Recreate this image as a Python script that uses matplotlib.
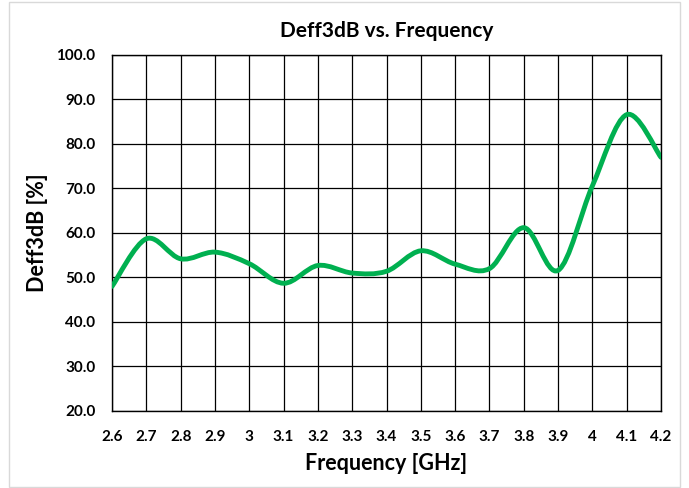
import numpy as np
import matplotlib.pyplot as plt
from matplotlib.path import Path
from matplotlib.patches import PathPatch, Rectangle

freq = [2.6, 2.7, 2.8, 2.9, 3.0, 3.1, 3.2, 3.3, 3.4, 3.5, 3.6, 3.7, 3.8, 3.9, 4.0, 4.1, 4.2]
deff = [48.0, 58.7, 54.2, 55.7, 53.1, 48.7, 52.7, 51.0, 51.4, 56.0, 53.0, 52.0, 61.2, 51.6, 70.6, 86.6, 77.0]
x_ticks = [2.6, 2.7, 2.8, 2.9, 3.0, 3.1, 3.2, 3.3, 3.4, 3.5, 3.6, 3.7, 3.8, 3.9, 4.0, 4.1, 4.2]
x_labels = ['2.6', '2.7', '2.8', '2.9', '3', '3.1', '3.2', '3.3', '3.4', '3.5',
            '3.6', '3.7', '3.8', '3.9', '4', '4.1', '4.2']
y_ticks = [20, 30, 40, 50, 60, 70, 80, 90, 100]


def smooth_path(x, y, tension=1 / 6):
    # spreadsheet-style smoothed line: cubic bezier segments with catmull-rom tangents
    x = np.asarray(x, float)
    y = np.asarray(y, float)
    n = len(x)
    verts = [(x[0], y[0])]
    codes = [Path.MOVETO]
    for i in range(n - 1):
        i0 = max(i - 1, 0)
        i3 = min(i + 2, n - 1)
        c1 = (x[i] + (x[i + 1] - x[i0]) * tension, y[i] + (y[i + 1] - y[i0]) * tension)
        c2 = (x[i + 1] - (x[i3] - x[i]) * tension, y[i + 1] - (y[i3] - y[i]) * tension)
        verts += [c1, c2, (x[i + 1], y[i + 1])]
        codes += [Path.CURVE4] * 3
    return Path(verts, codes)


plt.rcParams['font.family'] = ['Lato', 'DejaVu Sans']
plt.rcParams['font.weight'] = 'bold'

fig = plt.figure(figsize=(6.89, 4.88), dpi=100)
ax = fig.add_axes([0.1626, 0.1578, 0.7968, 0.7295])

line = PathPatch(smooth_path(freq, deff), facecolor='none', edgecolor='#00B050',
                 lw=3.5, capstyle='round', joinstyle='round', zorder=3)
ax.add_patch(line)

ax.set_xlim(2.6, 4.2)
ax.set_ylim(20, 100)
ax.set_xticks(x_ticks)
ax.set_xticklabels(x_labels)
ax.set_yticks(y_ticks)
ax.set_yticklabels([f'{v:.1f}' for v in y_ticks])
ax.tick_params(axis='both', length=0, labelsize=11)
ax.tick_params(axis='x', pad=14)
ax.tick_params(axis='y', pad=12)
ax.grid(True, color='black', lw=0.9)
for s in ax.spines.values():
    s.set_color('black')
    s.set_linewidth(1.0)

ax.set_title('Deff3dB vs. Frequency', fontsize=15, fontweight='bold', pad=13)
ax.set_xlabel('Frequency [GHz]', fontsize=15.5, fontweight='bold', labelpad=6)
ax.set_ylabel('Deff3dB [%]', fontsize=15.5, fontweight='bold', labelpad=6)

# light frame round the whole chart area
fig.patches.append(Rectangle((0.013, 0.003), 0.974, 0.992, transform=fig.transFigure,
                             fill=False, edgecolor='#d9d9d9', lw=1.0))

fig.savefig('out.png', dpi=100)
